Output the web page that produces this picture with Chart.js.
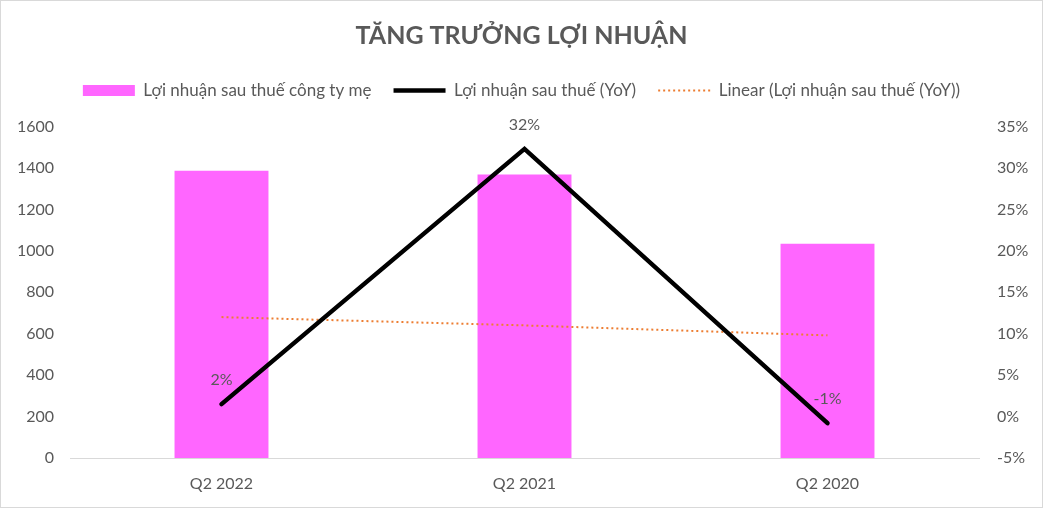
<!DOCTYPE html>
<html>
<head>
<meta charset="utf-8">
<script src="https://cdn.jsdelivr.net/npm/chart.js@4/dist/chart.umd.min.js"></script>
<style>
  body { margin: 0; background: #fff; }
  #wrap { width: 1043px; height: 508px; position: relative; }
</style>
</head>
<body>
<div id="wrap"><canvas id="profitChart"></canvas></div>
<script>
// data
const quarters = ['Q2 2022', 'Q2 2021', 'Q2 2020'];
const profitParent = [1387, 1368, 1034];
const profitYoY = [1.5, 32.3, -0.8];
const yoyLabels = ['2%', '32%', '-1%'];
const yoyTrend = [12.0, 11.0, 9.8];

const leftTicks = [0, 200, 400, 600, 800, 1000, 1200, 1400, 1600];
const rightTicks = [-5, 0, 5, 10, 15, 20, 25, 30, 35];

const textGrey = '#595959';
const fontFamily = 'Lato, "Open Sans", sans-serif';

// white background + thin grey frame like the spreadsheet chart
const frame = {
  id: 'frame',
  beforeDraw(chart) {
    const c = chart.ctx;
    c.save();
    c.fillStyle = '#fff';
    c.fillRect(0, 0, chart.width, chart.height);
    c.strokeStyle = '#d9d9d9';
    c.lineWidth = 1;
    c.strokeRect(0.5, 0.5, chart.width - 1, chart.height - 1);
    c.restore();
  }
};

// extra room under the legend
const legendGap = {
  id: 'legendGap',
  afterInit(chart) {
    const fit = chart.legend.fit;
    chart.legend.fit = function () {
      fit.call(this);
      this.height += 17.5;
    };
  }
};

// labels over the YoY line points
const yoyValueLabels = {
  id: 'yoyValueLabels',
  afterDatasetsDraw(chart) {
    const meta = chart.getDatasetMeta(1);
    const c = chart.ctx;
    c.save();
    c.font = '16px ' + fontFamily;
    c.fillStyle = textGrey;
    c.textAlign = 'center';
    c.textBaseline = 'middle';
    meta.data.forEach((pt, i) => {
      c.fillText(yoyLabels[i], pt.x, pt.y - 24);
    });
    c.restore();
  }
};

new Chart(document.getElementById('profitChart'), {
  data: {
    labels: quarters,
    datasets: [
      {
        type: 'bar',
        label: 'Lợi nhuận sau thuế công ty mẹ',
        data: profitParent,
        backgroundColor: '#FF66FF',
        yAxisID: 'y',
        categoryPercentage: 1,
        barPercentage: 0.31,
        order: 3
      },
      {
        type: 'line',
        label: 'Lợi nhuận sau thuế (YoY)',
        data: profitYoY,
        borderColor: '#000',
        borderWidth: 4.5,
        borderCapStyle: 'round',
        pointRadius: 0,
        tension: 0,
        yAxisID: 'y1',
        order: 1
      },
      {
        type: 'line',
        label: 'Linear (Lợi nhuận sau thuế (YoY))',
        data: yoyTrend,
        borderColor: '#ED7D31',
        borderWidth: 2,
        borderDash: [2, 3],
        pointRadius: 0,
        tension: 0,
        yAxisID: 'y1',
        order: 2
      }
    ]
  },
  options: {
    responsive: true,
    maintainAspectRatio: false,
    animation: false,
    layout: { padding: { top: 0, left: 0, right: 0, bottom: 0 } },
    plugins: {
      title: {
        display: true,
        text: 'TĂNG TRƯỞNG LỢI NHUẬN',
        color: textGrey,
        font: { family: fontFamily, size: 25, weight: 'bold' },
        padding: { top: 21, bottom: 9 }
      },
      legend: {
        position: 'top',
        labels: {
          color: textGrey,
          font: { family: fontFamily, size: 17 },
          usePointStyle: true,
          pointStyleWidth: 52,
          boxHeight: 11,
          padding: 22,
          generateLabels(chart) {
            return chart.data.datasets.map((ds, i) => ({
              text: ds.label,
              datasetIndex: i,
              fontColor: textGrey,
              pointStyle: ds.type === 'bar' ? 'rect' : 'line',
              fillStyle: ds.type === 'bar' ? ds.backgroundColor : ds.borderColor,
              strokeStyle: ds.type === 'bar' ? ds.backgroundColor : ds.borderColor,
              lineWidth: ds.type === 'bar' ? 0 : ds.borderWidth,
              lineDash: ds.borderDash || [],
              lineCap: 'butt',
              hidden: false
            }));
          }
        }
      },
      tooltip: { enabled: false }
    },
    scales: {
      x: {
        grid: { display: false, drawTicks: false },
        border: { display: true, color: '#d9d9d9', width: 1 },
        ticks: { color: textGrey, font: { family: fontFamily, size: 16 }, padding: 16 },
        afterFit(s) { s.height = 50; }
      },
      y: {
        position: 'left',
        min: 0,
        max: 1600,
        grid: { display: false, drawTicks: false },
        border: { display: false },
        afterBuildTicks(s) { s.ticks = leftTicks.map(v => ({ value: v })); },
        ticks: {
          color: textGrey,
          font: { family: fontFamily, size: 16 },
          padding: 16,
          callback: v => String(v)
        },
        afterFit(s) { s.width = 70; }
      },
      y1: {
        position: 'right',
        min: -5,
        max: 35,
        grid: { display: false, drawTicks: false },
        border: { display: false },
        afterBuildTicks(s) { s.ticks = rightTicks.map(v => ({ value: v })); },
        ticks: {
          color: textGrey,
          font: { family: fontFamily, size: 16 },
          padding: 18,
          callback: v => v + '%'
        },
        afterFit(s) { s.width = 64; }
      }
    }
  },
  plugins: [frame, legendGap, yoyValueLabels]
});
</script>
</body>
</html>
